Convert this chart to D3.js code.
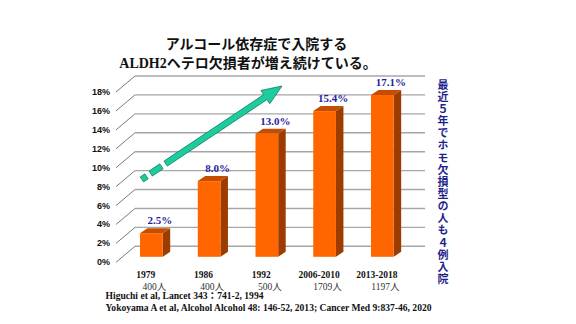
<!DOCTYPE html>
<html><head><meta charset="utf-8">
<script src="https://cdn.jsdelivr.net/npm/d3@7"></script>
<style>
html,body{margin:0;padding:0;background:#fff;}
svg{display:block;}
</style></head>
<body>
<svg id="chart" width="576" height="324"></svg>
<script>
// ---- data ----
const titleLines = ["アルコール依存症で入院する", "ALDH2ヘテロ欠損者が増え続けている。"];
const categories = ["1979", "1986", "1992", "2006-2010", "2013-2018"];
const counts = ["400人", "400人", "500人", "1709人", "1197人"];
const values = [2.5, 8.0, 13.0, 15.4, 17.1];
const valueLabels = ["2.5%", "8.0%", "13.0%", "15.4%", "17.1%"];
const tickValues = [0, 2, 4, 6, 8, 10, 12, 14, 16, 18];
const tickLabels = ["0%", "2%", "4%", "6%", "8%", "10%", "12%", "14%", "16%", "18%"];
const sideNote = "最近５年でホモ欠損型の人も４例入院";
const references = [
  "Higuchi et al, Lancet 343：741-2, 1994",
  "Yokoyama A et al, Alcohol Alcohol 48: 146-52, 2013; Cancer Med 9:837-46, 2020"
];

// ---- layout ----
const svg = d3.select("#chart");
const serif = "'Liberation Serif','Times New Roman','Noto Sans CJK JP',serif";
const jp = "'Liberation Serif','Noto Sans CJK JP',sans-serif";

// back-wall scale
const yBack = d3.scaleLinear().domain([0, 18]).range([246.3, 76]);
const depthDX = -19, depthDY = 16;       // back wall -> front (label) plane
const barOffset = 10.5;                  // bar front face below back wall
const yBar = v => yBack(v) + barOffset;
const x = d3.scaleBand().domain(categories).range([122.7, 411]).paddingInner(0.607).paddingOuter(0.3);
const gridX0 = 135, gridX1 = 425;
const barDX = 7.5, barDY = -5;

// gridlines
const grid = svg.append("g");
grid.selectAll("line.h").data(tickValues).join("line")
  .attr("x1", gridX0).attr("x2", gridX1)
  .attr("y1", d => yBack(d)).attr("y2", d => yBack(d))
  .attr("stroke", "#a6a6a6").attr("stroke-width", 1.4);
grid.selectAll("line.d").data(tickValues).join("line")
  .attr("x1", gridX0 + depthDX).attr("y1", d => yBack(d) + depthDY)
  .attr("x2", gridX0).attr("y2", d => yBack(d))
  .attr("stroke", "#7a7a7a").attr("stroke-width", 1);

// tick labels
svg.append("g").selectAll("text").data(tickValues).join("text")
  .attr("x", 110).attr("y", d => yBack(d) + depthDY)
  .attr("text-anchor", "end").attr("dominant-baseline", "central")
  .attr("font-family", "'Liberation Sans Narrow','Arial Narrow','Liberation Sans',sans-serif")
  .attr("font-weight", "bold").attr("font-size", 9).attr("fill", "#111")
  .text((d, i) => tickLabels[i]);

// arrow (decorative trend)
const ax0 = 144, ay0 = 178, ax1 = 282, ay1 = 86;
const ang = Math.atan2(ay1 - ay0, ax1 - ax0) * 180 / Math.PI;
const L = Math.hypot(ax1 - ax0, ay1 - ay0);
const ag = svg.append("g").attr("transform", `translate(${ax0},${ay0}) rotate(${ang})`);
const green = "#1ccc9c", gstroke = "#0d7a5c";
ag.append("rect").attr("x", -2.5).attr("y", -3).attr("width", 5.5).attr("height", 6)
  .attr("fill", green).attr("stroke", gstroke).attr("stroke-width", 0.7);
ag.append("rect").attr("x", 8).attr("y", -3).attr("width", 13).attr("height", 6)
  .attr("fill", green).attr("stroke", gstroke).attr("stroke-width", 0.7);
const hl = 20, hw = 8, sw = 3;
ag.append("path")
  .attr("d", `M26,${-sw} L${L - hl},${-sw} L${L - hl},${-hw} L${L},0 L${L - hl},${hw} L${L - hl},${sw} L26,${sw} Z`)
  .attr("fill", green).attr("stroke", gstroke).attr("stroke-width", 0.7);

// bars
const bars = svg.append("g").selectAll("g").data(values).join("g");
bars.append("path") // side
  .attr("d", (d, i) => {
    const x1 = x(categories[i]) + x.bandwidth();
    return `M${x1},${yBar(0)} L${x1 + barDX},${yBar(0) + barDY} L${x1 + barDX},${yBar(d) + barDY} L${x1},${yBar(d)} Z`;
  }).attr("fill", "#9c3c00");
bars.append("path") // top
  .attr("d", (d, i) => {
    const x0 = x(categories[i]), x1 = x0 + x.bandwidth();
    return `M${x0},${yBar(d)} L${x1},${yBar(d)} L${x1 + barDX},${yBar(d) + barDY} L${x0 + barDX},${yBar(d) + barDY} Z`;
  }).attr("fill", "#c44d00");
bars.append("rect") // front
  .attr("x", (d, i) => x(categories[i])).attr("width", x.bandwidth())
  .attr("y", d => yBar(d)).attr("height", d => yBar(0) - yBar(d))
  .attr("fill", "#ff6600");

// value labels
svg.append("g").selectAll("text").data(values).join("text")
  .attr("x", (d, i) => x(categories[i]) + x.bandwidth() / 2 + 8.5)
  .attr("y", d => yBar(d) - 9)
  .attr("text-anchor", "middle")
  .attr("font-family", serif).attr("font-weight", "bold").attr("font-size", 11)
  .attr("fill", "#1f1f9e")
  .text((d, i) => valueLabels[i]);

// category labels
const cat = svg.append("g");
cat.selectAll("text.y").data(categories).join("text")
  .attr("x", d => x(d) + x.bandwidth() / 2 - 5.5).attr("y", 278)
  .attr("text-anchor", "middle").attr("font-family", serif).attr("font-weight", "bold")
  .attr("font-size", 9.5).attr("fill", "#111").text(d => d);
cat.selectAll("text.c").data(counts).join("text")
  .attr("x", (d, i) => x(categories[i]) + x.bandwidth() / 2 + 3).attr("y", 289.5)
  .attr("text-anchor", "middle").attr("font-family", serif)
  .attr("font-size", 9.5).attr("fill", "#333").text(d => d);

// references
const refWidths = [158, 326];
svg.append("g").selectAll("text").data(references).join("text")
  .attr("x", 105.5).attr("y", (d, i) => 298.5 + i * 12.3)
  .attr("font-family", serif).attr("font-weight", "bold").attr("font-size", 9.5)
  .attr("textLength", (d, i) => refWidths[i]).attr("lengthAdjust", "spacingAndGlyphs")
  .attr("fill", "#111").text(d => d);

// title
svg.append("g").selectAll("text").data(titleLines).join("text")
  .attr("x", (d, i) => i === 0 ? 256.5 : 248).attr("y", (d, i) => 49 + i * 18.7)
  .attr("text-anchor", "middle").attr("font-family", jp).attr("font-weight", "bold")
  .attr("font-size", 14).attr("fill", "#111").text(d => d);

// vertical side note
svg.append("text")
  .attr("x", 443).attr("y", 79)
  .style("writing-mode", "vertical-rl").style("text-orientation", "upright")
  .style("letter-spacing", "1.15px")
  .attr("font-family", "'Noto Sans CJK JP',sans-serif").attr("font-weight", "bold")
  .attr("font-size", 11).attr("fill", "#1f1f8c").text(sideNote);
</script>
</body></html>
